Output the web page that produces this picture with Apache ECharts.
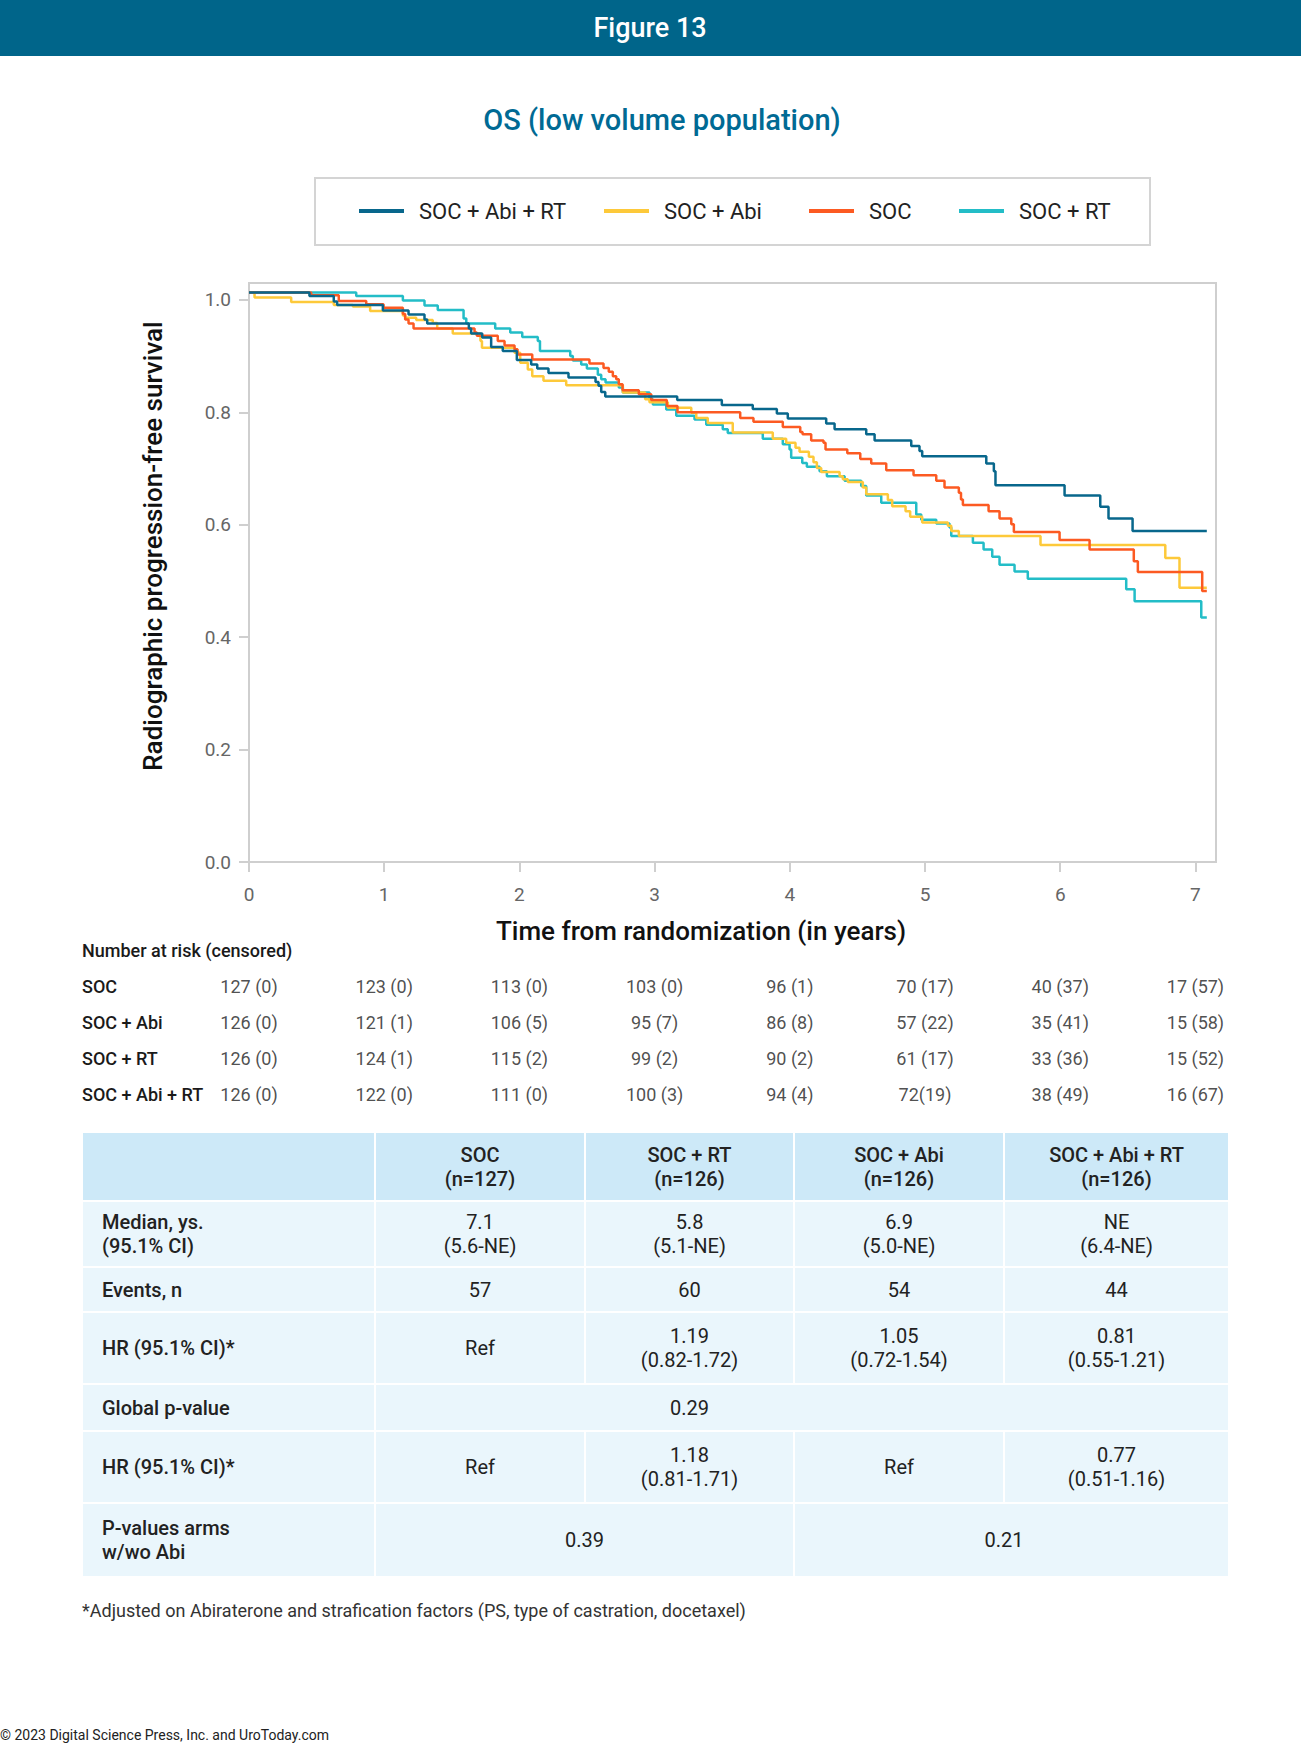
<!DOCTYPE html>
<html>
<head>
<meta charset="utf-8">
<title>Figure 13</title>
<script src="https://cdn.jsdelivr.net/npm/echarts@6/dist/echarts.min.js"></script>
<style>
html, body { margin: 0; padding: 0; background: #fff; }
#main { width: 1301px; height: 1747px; }
</style>
</head>
<body>
<div id="main"></div>
<script>
/* KM curves, [years, survival] */
var socAbiRt = [[0,1.013],[0.447,1.007],[0.627,0.997],[0.652,0.991],[0.990,0.981],[1.180,0.974],[1.298,0.965],[1.318,0.958],[1.626,0.949],[1.643,0.940],[1.725,0.933],[1.791,0.916],[1.877,0.909],[1.981,0.893],[2.087,0.885],[2.132,0.878],[2.215,0.870],[2.363,0.862],[2.563,0.854],[2.585,0.847],[2.605,0.836],[2.635,0.828],[3.167,0.822],[3.497,0.813],[3.726,0.806],[3.904,0.798],[3.985,0.789],[4.269,0.780],[4.331,0.770],[4.565,0.761],[4.627,0.750],[4.898,0.740],[4.959,0.731],[4.979,0.722],[5.453,0.709],[5.509,0.695],[5.521,0.670],[6.032,0.652],[6.296,0.632],[6.357,0.611],[6.535,0.589],[7.084,0.589]];
var socAbi = [[0,1.013],[0.041,1.004],[0.312,0.996],[0.627,0.991],[0.768,0.988],[0.896,0.980],[1.138,0.972],[1.155,0.968],[1.237,0.964],[1.359,0.959],[1.392,0.949],[1.507,0.940],[1.712,0.927],[1.723,0.915],[1.964,0.906],[2.006,0.888],[2.062,0.876],[2.095,0.864],[2.178,0.856],[2.346,0.848],[2.765,0.835],[2.930,0.823],[2.962,0.818],[3.098,0.808],[3.271,0.799],[3.308,0.790],[3.393,0.781],[3.578,0.764],[3.874,0.753],[3.973,0.746],[4.042,0.737],[4.072,0.730],[4.141,0.721],[4.175,0.711],[4.200,0.701],[4.232,0.694],[4.368,0.686],[4.392,0.681],[4.429,0.676],[4.540,0.666],[4.565,0.654],[4.725,0.644],[4.757,0.633],[4.856,0.624],[4.890,0.614],[4.979,0.604],[5.169,0.598],[5.194,0.589],[5.250,0.580],[5.854,0.564],[6.777,0.541],[6.882,0.488],[7.084,0.488]];
var soc = [[0,1.013],[0.460,1.008],[0.664,0.998],[0.867,0.992],[0.995,0.986],[1.138,0.975],[1.155,0.965],[1.180,0.958],[1.217,0.949],[1.668,0.942],[1.685,0.936],[1.840,0.927],[1.890,0.919],[1.964,0.912],[1.986,0.903],[2.095,0.894],[2.518,0.887],[2.622,0.879],[2.661,0.872],[2.691,0.864],[2.716,0.859],[2.735,0.850],[2.763,0.839],[2.883,0.832],[2.975,0.822],[3.090,0.811],[3.169,0.800],[3.633,0.790],[3.731,0.783],[3.948,0.774],[4.077,0.765],[4.094,0.761],[4.158,0.750],[4.249,0.746],[4.264,0.734],[4.425,0.727],[4.521,0.717],[4.602,0.709],[4.713,0.697],[4.915,0.688],[5.083,0.678],[5.144,0.666],[5.250,0.657],[5.266,0.645],[5.280,0.635],[5.470,0.624],[5.551,0.611],[5.638,0.601],[5.657,0.587],[5.995,0.573],[6.217,0.556],[6.544,0.535],[6.574,0.516],[7.050,0.482],[7.084,0.482]];
var socRt = [[0,1.013],[0.793,1.007],[1.138,0.999],[1.298,0.990],[1.396,0.982],[1.587,0.967],[1.607,0.958],[1.821,0.949],[1.932,0.942],[2.021,0.934],[2.136,0.927],[2.152,0.909],[2.376,0.900],[2.395,0.892],[2.457,0.885],[2.499,0.878],[2.580,0.867],[2.605,0.859],[2.637,0.853],[2.735,0.844],[2.765,0.835],[2.962,0.823],[2.987,0.814],[3.086,0.805],[3.160,0.794],[3.295,0.787],[3.382,0.778],[3.504,0.770],[3.541,0.763],[3.800,0.753],[3.948,0.743],[3.998,0.734],[4.010,0.719],[4.092,0.710],[4.126,0.703],[4.220,0.695],[4.274,0.686],[4.405,0.678],[4.528,0.669],[4.565,0.652],[4.676,0.639],[4.935,0.618],[4.972,0.609],[5.083,0.602],[5.181,0.595],[5.194,0.580],[5.354,0.568],[5.433,0.556],[5.497,0.543],[5.551,0.529],[5.662,0.517],[5.760,0.504],[6.488,0.485],[6.550,0.464],[7.043,0.435],[7.084,0.435]];

var xTicks = [0, 1, 2, 3, 4, 5, 6, 7];
var yTicks = [0, 0.2, 0.4, 0.6, 0.8, 1.0];

// number at risk (censored)
var riskArms = ['SOC', 'SOC + Abi', 'SOC + RT', 'SOC + Abi + RT'];
var riskSoc = ['127 (0)', '123 (0)', '113 (0)', '103 (0)', '96 (1)', '70 (17)', '40 (37)', '17 (57)'];
var riskSocAbi = ['126 (0)', '121 (1)', '106 (5)', '95 (7)', '86 (8)', '57 (22)', '35 (41)', '15 (58)'];
var riskSocRt = ['126 (0)', '124 (1)', '115 (2)', '99 (2)', '90 (2)', '61 (17)', '33 (36)', '15 (52)'];
var riskSocAbiRt = ['126 (0)', '122 (0)', '111 (0)', '100 (3)', '94 (4)', '72(19)', '38 (49)', '16 (67)'];

// summary table
var tableHead = ['SOC\n(n=127)', 'SOC + RT\n(n=126)', 'SOC + Abi\n(n=126)', 'SOC + Abi + RT\n(n=126)'];
var medianRow = ['7.1\n(5.6-NE)', '5.8\n(5.1-NE)', '6.9\n(5.0-NE)', 'NE\n(6.4-NE)'];
var eventsRow = ['57', '60', '54', '44'];
var hrRow = ['Ref', '1.19\n(0.82-1.72)', '1.05\n(0.72-1.54)', '0.81\n(0.55-1.21)'];
var globalP = '0.29';
var hrAbiRow = ['Ref', '1.18\n(0.81-1.71)', 'Ref', '0.77\n(0.51-1.16)'];
var pArms = ['0.39', '0.21'];

var FONT = 'Roboto, "Noto Sans", sans-serif';
var C_ABIRT = '#08678c', C_ABI = '#fdc93a', C_SOC = '#fc5a22', C_RT = '#23bdc7';

function txt(text, x, y, size, opts) {
    opts = opts || {};
    return {
        type: 'text', x: x, y: y, rotation: opts.rotation || 0, z: 10,
        style: {
            text: text, fontSize: size, fontFamily: FONT,
            fontWeight: opts.weight || 'normal',
            fill: opts.color || '#222',
            lineHeight: opts.lineHeight || size * 1.2,
            align: opts.align || 'left', textAlign: opts.align || 'left',
            verticalAlign: 'middle', textVerticalAlign: 'middle'
        }
    };
}

function buildTable() {
    var colX = [82, 375, 585, 794, 1004, 1229];
    var rowY = [[1133, 1200], [1202, 1266], [1268, 1311], [1313, 1383], [1385, 1430], [1432, 1502], [1504, 1576]];
    var head = '#cde9f8', body = '#eaf6fc';
    var els = [];
    function cell(c0, c1, r, fill, text, tx, weight, align) {
        var y0 = rowY[r][0], y1 = rowY[r][1];
        els.push({
            type: 'rect', z: 5,
            shape: { x: colX[c0] + 1, y: y0, width: colX[c1] - colX[c0] - 2, height: y1 - y0 },
            style: { fill: fill }
        });
        if (text) {
            var x = tx != null ? tx : (colX[c0] + colX[c1]) / 2;
            els.push(txt(text, x, (y0 + y1) / 2, 20, { weight: weight, align: align || 'center', lineHeight: 24 }));
        }
    }
    var lab = 102;
    cell(0, 1, 0, head, '');
    tableHead.forEach(function (t, i) { cell(i + 1, i + 2, 0, head, t, null, 500); });
    cell(0, 1, 1, body, 'Median, ys.\n(95.1% CI)', lab, 500, 'left');
    medianRow.forEach(function (t, i) { cell(i + 1, i + 2, 1, body, t); });
    cell(0, 1, 2, body, 'Events, n', lab, 500, 'left');
    eventsRow.forEach(function (t, i) { cell(i + 1, i + 2, 2, body, t); });
    cell(0, 1, 3, body, 'HR (95.1% CI)*', lab, 500, 'left');
    hrRow.forEach(function (t, i) { cell(i + 1, i + 2, 3, body, t); });
    cell(0, 1, 4, body, 'Global p-value', lab, 500, 'left');
    cell(1, 5, 4, body, globalP, (colX[2] + colX[3]) / 2);
    cell(0, 1, 5, body, 'HR (95.1% CI)*', lab, 500, 'left');
    hrAbiRow.forEach(function (t, i) { cell(i + 1, i + 2, 5, body, t); });
    cell(0, 1, 6, body, 'P-values arms\nw/wo Abi', lab, 500, 'left');
    cell(1, 3, 6, body, pArms[0]);
    cell(3, 5, 6, body, pArms[1], colX[4]);
    return els;
}

var riskRows = [riskSoc, riskSocAbi, riskSocRt, riskSocAbiRt];
var riskData = [];
riskRows.forEach(function (row, r) {
    row.forEach(function (t, i) {
        riskData.push({ name: t, value: [xTicks[i], riskArms[r]] });
    });
});

function legendItem(name, left) {
    return {
        data: [name], left: left, top: 200, icon: 'rect', itemWidth: 45, itemHeight: 4,
        padding: 0, selectedMode: false,
        textStyle: { fontSize: 22, color: '#222', fontFamily: FONT, padding: [0, 0, 0, 10] }
    };
}

var axisGray = '#cfcfcf';
var chart = echarts.init(document.getElementById('main'), null, { renderer: 'svg' });
chart.setOption({
    animation: false,
    backgroundColor: '#fff',
    textStyle: { fontFamily: FONT },
    legend: [
        legendItem('SOC + Abi + RT', 359),
        legendItem('SOC + Abi', 604),
        legendItem('SOC', 809),
        legendItem('SOC + RT', 959)
    ],
    grid: [
        { left: 249, top: 283, width: 967, height: 579, show: true, borderColor: axisGray, borderWidth: 2 },
        { left: 249, top: 968, width: 967, height: 144 }
    ],
    xAxis: [{
        type: 'value', gridIndex: 0, min: 0, max: 7.152,
        axisLine: { show: true, onZero: false, lineStyle: { color: axisGray, width: 2 } },
        axisTick: { show: true, length: 10, customValues: xTicks, lineStyle: { color: axisGray, width: 2 } },
        axisLabel: { customValues: xTicks, margin: 23, fontSize: 19, color: '#666' },
        splitLine: { show: false }
    }, {
        type: 'value', gridIndex: 1, min: 0, max: 7.152, show: false
    }],
    yAxis: [{
        type: 'value', gridIndex: 0, min: 0, max: 1.03,
        axisLine: { show: true, lineStyle: { color: axisGray, width: 2 } },
        axisTick: { show: true, length: 10, customValues: yTicks, lineStyle: { color: axisGray, width: 2 } },
        axisLabel: {
            customValues: yTicks, margin: 18, fontSize: 19, color: '#666',
            formatter: function (v) { return v.toFixed(1); }
        },
        splitLine: { show: false }
    }, {
        type: 'category', gridIndex: 1, data: riskArms, inverse: true,
        axisLine: { show: false }, axisTick: { show: false },
        axisLabel: { align: 'left', margin: 167, fontSize: 18, color: '#1a1a1a', fontWeight: 500 }
    }],
    series: [
        { name: 'SOC + RT', type: 'line', step: 'end', data: socRt, showSymbol: false, color: C_RT, lineStyle: { width: 2.5, color: C_RT } },
        { name: 'SOC + Abi', type: 'line', step: 'end', data: socAbi, showSymbol: false, color: C_ABI, lineStyle: { width: 2.5, color: C_ABI } },
        { name: 'SOC', type: 'line', step: 'end', data: soc, showSymbol: false, color: C_SOC, lineStyle: { width: 2.5, color: C_SOC } },
        { name: 'SOC + Abi + RT', type: 'line', step: 'end', data: socAbiRt, showSymbol: false, color: C_ABIRT, lineStyle: { width: 2.5, color: C_ABIRT } },
        {
            name: 'risk', type: 'scatter', xAxisIndex: 1, yAxisIndex: 1, data: riskData,
            symbolSize: 1, itemStyle: { color: 'rgba(0,0,0,0)' }, silent: true,
            label: { show: true, position: 'inside', formatter: '{b}', fontSize: 18, color: '#222' }
        }
    ],
    graphic: [
        { type: 'rect', shape: { x: 0, y: 0, width: 1301, height: 56 }, style: { fill: '#00658a' } },
        txt('Figure 13', 650, 28, 27, { color: '#fff', weight: 500, align: 'center' }),
        txt('OS (low volume population)', 662, 120, 29, { color: '#006a94', weight: 500, align: 'center' }),
        { type: 'rect', shape: { x: 315, y: 178, width: 835, height: 67 }, style: { fill: 'none', stroke: '#d4d4d4', lineWidth: 2 } },
        txt('Radiographic progression-free survival', 153, 546, 26, { color: '#111', weight: 500, align: 'center', rotation: Math.PI / 2 }),
        txt('Time from randomization (in years)', 701, 931, 26, { color: '#111', weight: 500, align: 'center' }),
        txt('Number at risk (censored)', 82, 950, 18, { color: '#1a1a1a', weight: 500 }),
        txt('*Adjusted on Abiraterone and strafication factors (PS, type of castration, docetaxel)', 82, 1610, 18, { color: '#333' }),
        txt('\u00a9 2023 Digital Science Press, Inc. and UroToday.com', 0, 1735, 14, { color: '#222' })
    ].concat(buildTable())
});
</script>
</body>
</html>
